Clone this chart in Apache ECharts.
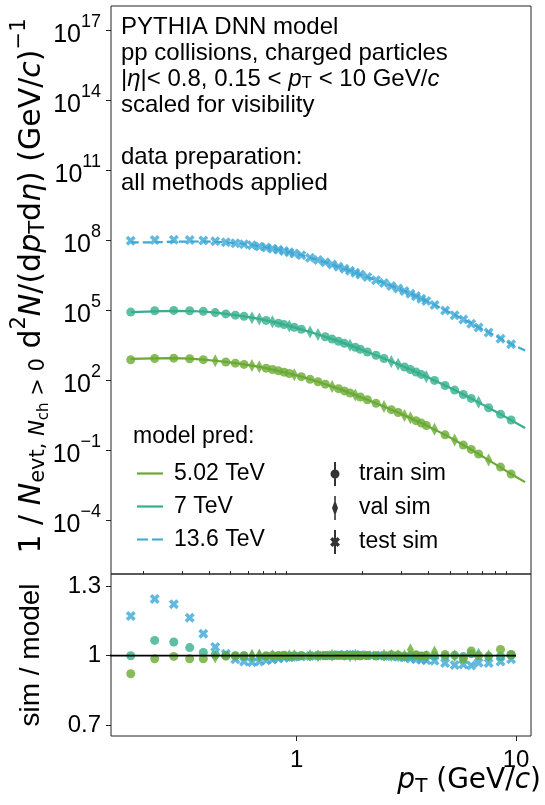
<!DOCTYPE html>
<html><head><meta charset="utf-8">
<script src="https://cdn.jsdelivr.net/npm/echarts@6/dist/echarts.min.js"></script>
<style>html,body{margin:0;padding:0;background:#fff}#c{width:545px;height:805px}</style>
</head><body><div id="c"></div>
<script>
// ---------------- data ----------------
const pT = [0.175,0.225,0.275,0.325,0.375,0.425,0.475,0.525,0.575,0.625,0.675,0.725,0.775,0.825,0.875,0.925,0.975,
  1.05,1.15,1.25,1.35,1.45,1.55,1.65,1.75,1.85,1.95,
  2.1,2.3,2.5,2.7,2.9,3.1,3.3,3.5,3.7,3.9,
  4.25,4.75,5.25,5.75,6.25,6.75,7.5,8.5,9.5];
const pTModelEnd = 11;
// model predictions (scaled for visibility), last entry at pTModelEnd
const model502 = [804,854,872,829,758,675,598,530,471,418,368,324,284,248,218,192,169,
  140,108,84.5,66.7,53.2,42.8,34.4,28.0,23.0,18.9,
  14.3,10.1,7.31,5.38,4.05,3.07,2.35,1.82,1.44,1.13,
  0.764,0.448,0.269,0.166,0.105,0.0681,0.0372,0.0182,0.00946,
  0.00425];
const model7 = [82000,87500,91600,90100,86700,77900,68600,60400,53700,47200,41600,36200,31600,27500,23900,20800,18200,
  14900,11500,8990,7180,5710,4600,3740,3070,2520,2090,
  1600,1160,843,627,475,364,282,222,175,141,
  97.0,58.7,37.2,24.2,16.3,11.1,6.56,3.46,1.93,
  0.877];
const model136 = [7.97e7,8.04e7,8.51e7,8.68e7,8.70e7,8.48e7,7.99e7,7.40e7,6.78e7,6.10e7,5.46e7,4.88e7,4.35e7,3.89e7,3.44e7,3.05e7,2.70e7,
  2.26e7,1.76e7,1.39e7,1.11e7,8.89e6,7.22e6,5.87e6,4.81e6,4.00e6,3.35e6,
  2.58e6,1.91e6,1.44e6,1.09e6,8.38e5,6.57e5,5.11e5,3.96e5,3.11e5,2.48e5,
  1.68e5,1.00e5,6.29e4,4.07e4,2.72e4,1.85e4,1.13e4,6090,3510,
  1840];
// sim / model ratios per pT bin
const ratio502 = [0.922,0.987,0.997,0.987,0.987,0.994,0.998,1.000,0.999,1.001,1.002,0.999,1.001,1.000,1.002,0.999,1.001,
  1.000,0.999,1.001,1.000,1.002,1.001,0.999,1.001,1.002,1.000,
  1.001,0.999,1.002,1.004,1.003,1.000,1.026,1.004,0.998,1.002,
  1.016,1.005,1.000,0.987,1.020,1.000,1.000,1.027,1.004];
const ratio7 = [1.000,1.066,1.059,1.035,1.014,1.004,1.001,0.999,1.000,1.000,1.001,0.999,1.000,1.000,1.001,1.000,1.000,
  1.000,1.001,1.000,1.001,1.000,1.002,1.001,1.000,1.001,1.000,
  1.001,1.000,0.999,1.001,1.000,0.998,1.000,1.001,0.999,0.997,
  1.000,0.998,1.002,0.996,1.008,1.006,0.998,0.997,1.005];
const ratio136 = [1.171,1.244,1.222,1.163,1.095,1.037,1.008,0.985,0.975,0.972,0.975,0.980,0.984,0.988,0.991,0.993,0.995,
  0.997,0.999,1.000,1.001,1.002,1.003,1.004,1.004,1.003,1.003,
  1.002,1.001,1.000,0.998,0.995,0.992,0.988,0.985,0.982,0.980,
  0.978,0.968,0.960,0.962,0.958,0.970,0.968,0.975,0.985];
// bins used for validation (others: training); 13.6 TeV is fully test
const valBins502 = [5,9,10,16,21,25,29,32,33,37,39,43];
const valBins7 = [9,10,12,15,18,19,24,30,31,36,42];
const topYTicks = [1e-4,1e-1,1e2,1e5,1e8,1e11,1e14,1e17];
const ratioYTicks = [0.7,1,1.3];
const xMajorTicks = [1,10];
const xMinorTicks = [0.2,0.3,0.4,0.5,0.6,0.7,0.8,0.9,2,3,4,5,6,7,8,9];
const refLinePts = [0.1,10];

// ---------------- styling ----------------
const FONT = '"Liberation Sans", Arial, Helvetica, sans-serif';
const MFONT = '"DejaVu Sans", sans-serif';
const C502 = '#6aaa33', C7 = '#36af8c', C136 = '#3ca8d4';
const X_MIN = Math.pow(10,-0.847), X_MAX = Math.pow(10,1.0684);
const SYM_DIAMOND = 'path://M3,0L6,6L3,12L0,6Z';
const SYM_X = 'path://M2.5,0L5,2.5L7.5,0L10,2.5L7.5,5L10,7.5L7.5,10L5,7.5L2.5,10L0,7.5L2.5,5L0,2.5Z';
const ICON_TRAIN = 'path://M4,0H6V24H4Z M0.5,12A4.5,4.5 0 1 1 9.5,12A4.5,4.5 0 1 1 0.5,12Z';
const ICON_VAL = 'path://M4.2,0H5.8V24H4.2Z M5,4L8,12L5,20L2,12Z';
const ICON_TEST = 'path://M4,0H6V24H4Z M2.5,7L5,9.5L7.5,7L10,9.5L7.5,12L10,14.5L7.5,17L5,14.5L2.5,17L0,14.5L2.5,12L0,9.5Z';
const ICON_SOLID = 'path://M0,0H26V2.2H0Z';
const ICON_DASH = 'path://M0,0H11V2.2H0Z M15,0H26V2.2H15Z';

function modelLine(m){ return m.map((v,i)=>[i<pT.length?pT[i]:pTModelEnd, v]); }
function simPts(m, r, bins, wantVal){
  const out=[]; pT.forEach((x,i)=>{ const isVal = bins ? bins.indexOf(i)>=0 : false;
    if(bins===null || isVal===wantVal) out.push([x, m[i]*r[i]]); }); return out; }
function ratioPts(r, bins, wantVal){
  const out=[]; pT.forEach((x,i)=>{ const isVal = bins ? bins.indexOf(i)>=0 : false;
    if(bins===null || isVal===wantVal) out.push([x, r[i]]); }); return out; }

function expLabel(v){ const e=Math.round(Math.log10(v)); const s=(e<0?'\u2212':'')+Math.abs(e); return '{b|10}{e|'+s+'}'; }

const chart = echarts.init(document.getElementById('c'), null, {renderer:'canvas'});
const tickLbl = {color:'#000', fontFamily:FONT, fontSize:24};
const option = {
  animation:false,
  backgroundColor:'#fff',
  grid:[
    {left:111, top:6, width:420, height:568, show:true, borderColor:'#222', borderWidth:1, backgroundColor:'transparent'},
    {left:111, top:574, width:420, height:162, show:true, borderColor:'#222', borderWidth:1, backgroundColor:'transparent'}
  ],
  xAxis:[
    {type:'log', gridIndex:0, min:X_MIN, max:X_MAX, axisLine:{show:false}, axisTick:{show:false}, axisLabel:{show:false}, splitLine:{show:false}},
    {type:'log', gridIndex:1, min:X_MIN, max:X_MAX, axisLine:{show:false}, splitLine:{show:false},
      axisTick:{show:true, length:5, customValues:xMajorTicks, lineStyle:{color:'#222', width:1}},
      axisLabel:{show:true, customValues:xMajorTicks, margin:12, formatter:v=>String(Math.round(v)), ...tickLbl}},
    {type:'log', gridIndex:1, min:X_MIN, max:X_MAX, axisLine:{show:false}, splitLine:{show:false},
      axisTick:{show:true, length:3, customValues:xMinorTicks, lineStyle:{color:'#222', width:1}},
      axisLabel:{show:false}}
  ],
  yAxis:[
    {type:'log', gridIndex:0, min:Math.pow(10,-6.31), max:Math.pow(10,18.03), axisLine:{show:false}, splitLine:{show:false},
      axisTick:{show:true, length:5, customValues:topYTicks, lineStyle:{color:'#222', width:1}},
      axisLabel:{show:true, customValues:topYTicks, margin:10, formatter:expLabel,
        rich:{b:{fontSize:25, fontFamily:FONT, color:'#000', lineHeight:32, padding:[10,0,0,0]},
              e:{fontSize:18, fontFamily:FONT, color:'#000', lineHeight:32, padding:[0,0,17,0]}}}},
    {type:'value', gridIndex:1, min:0.654, max:1.352, axisLine:{show:false}, splitLine:{show:false},
      axisTick:{show:true, length:5, customValues:ratioYTicks, lineStyle:{color:'#222', width:1}},
      axisLabel:{show:true, customValues:ratioYTicks, margin:10, formatter:v=>String(v), ...tickLbl}}
  ],
  legend:[
    {left:132, top:457, orient:'vertical', itemWidth:26, itemHeight:20, itemGap:10, selectedMode:false,
      textStyle:{fontFamily:FONT, fontSize:23, color:'#000', padding:[0,0,0,6]},
      data:[{name:'5.02 TeV', icon:ICON_SOLID},{name:'7 TeV', icon:ICON_SOLID},{name:'13.6 TeV', icon:ICON_DASH}]},
    {left:325, top:457, orient:'vertical', itemWidth:10, itemHeight:24, itemGap:10, selectedMode:false,
      textStyle:{fontFamily:FONT, fontSize:23, color:'#000', padding:[0,0,0,14]},
      data:[{name:'train sim', icon:ICON_TRAIN},{name:'val sim', icon:ICON_VAL},{name:'test sim', icon:ICON_TEST}]}
  ],
  graphic:[
    {type:'text', left:121, top:15, z:100, style:{
      text:'{n|PYTHIA DNN model}\n{n|pp collisions, charged particles}\n{n||}{i|\u03b7}{n||< 0.8, 0.15 < }{i|p}{s|T}{n| < 10 GeV/}{i|c}\n{n|scaled for visibility}\n{n| }\n{n|data preparation:}\n{n|all methods applied}',
      rich:{
        n:{fontSize:24, fontFamily:FONT, fill:'#000', lineHeight:26},
        i:{fontSize:24, fontFamily:FONT, fontStyle:'italic', fill:'#000', lineHeight:26},
        s:{fontSize:17, fontFamily:FONT, fill:'#000', lineHeight:26, padding:[9,0,0,0]}
      }}},
    {type:'text', x:133, y:437, z:100, style:{text:'model pred:', fontFamily:FONT, fontSize:23, fill:'#000', align:'left', verticalAlign:'middle'}},
    {type:'text', x:32, y:286, rotation:Math.PI/2, z:100, style:{
      text:'{n|1 / }{i|N}{s|evt, }{si|N}{ss|ch}{s| > 0}{n| d}{p|2}{i|N}{n|/(d}{i|p}{s|T}{n|d}{i|\u03b7}{n|) (GeV/}{i|c}{n|)}{p|\u22121}',
      align:'center', verticalAlign:'middle',
      rich:{
        n:{fontSize:30, fontFamily:MFONT, fill:'#000', lineHeight:46},
        i:{fontSize:30, fontFamily:MFONT, fontStyle:'italic', fill:'#000', lineHeight:46},
        s:{fontSize:21, fontFamily:MFONT, fill:'#000', lineHeight:46, padding:[13,0,0,0]},
        si:{fontSize:21, fontFamily:MFONT, fontStyle:'italic', fill:'#000', lineHeight:46, padding:[13,0,0,0]},
        ss:{fontSize:15, fontFamily:MFONT, fill:'#000', lineHeight:46, padding:[24,0,0,0]},
        p:{fontSize:21, fontFamily:MFONT, fill:'#000', lineHeight:46, padding:[0,0,24,0]}
      }}},
    {type:'text', x:31, y:655, rotation:Math.PI/2, z:100, style:{text:'sim / model', fontFamily:FONT, fontSize:28, fill:'#000', align:'center', verticalAlign:'middle'}},
    {type:'text', x:541, y:781, z:100, style:{
      text:'{i|p}{s|T}{n| (GeV/}{i|c}{n|)}', align:'right', verticalAlign:'middle',
      rich:{
        n:{fontSize:28, fontFamily:MFONT, fill:'#000', lineHeight:36},
        i:{fontSize:28, fontFamily:MFONT, fontStyle:'italic', fill:'#000', lineHeight:36},
        s:{fontSize:20, fontFamily:MFONT, fill:'#000', lineHeight:36, padding:[12,0,0,0]}
      }}}
  ],
  series:[
    // legend dummies
    {name:'train sim', type:'scatter', xAxisIndex:0, yAxisIndex:0, data:[], itemStyle:{color:'#000'}},
    {name:'val sim', type:'scatter', xAxisIndex:0, yAxisIndex:0, data:[], itemStyle:{color:'#000'}},
    {name:'test sim', type:'scatter', xAxisIndex:0, yAxisIndex:0, data:[], itemStyle:{color:'#000'}},
    // top panel: model lines
    {name:'13.6 TeV', type:'line', xAxisIndex:0, yAxisIndex:0, data:modelLine(model136), symbol:'none',
      lineStyle:{color:C136, width:2.2, type:[8,4]}, itemStyle:{color:C136}, z:2},
    {name:'7 TeV', type:'line', xAxisIndex:0, yAxisIndex:0, data:modelLine(model7), symbol:'none',
      lineStyle:{color:C7, width:2.2}, itemStyle:{color:C7}, z:2},
    {name:'5.02 TeV', type:'line', xAxisIndex:0, yAxisIndex:0, data:modelLine(model502), symbol:'none',
      lineStyle:{color:C502, width:2.2}, itemStyle:{color:C502}, z:2},
    // top panel: sim points
    {name:'13.6 test', type:'scatter', xAxisIndex:0, yAxisIndex:0, data:simPts(model136, ratio136, null), symbol:SYM_X, symbolSize:10, itemStyle:{color:C136}, z:3},
    {name:'7 train', type:'scatter', xAxisIndex:0, yAxisIndex:0, data:simPts(model7, ratio7, valBins7, false), symbol:'circle', symbolSize:9, itemStyle:{color:C7}, z:3},
    {name:'7 val', type:'scatter', xAxisIndex:0, yAxisIndex:0, data:simPts(model7, ratio7, valBins7, true), symbol:SYM_DIAMOND, symbolSize:[7,13], itemStyle:{color:C7}, z:3},
    {name:'5.02 train', type:'scatter', xAxisIndex:0, yAxisIndex:0, data:simPts(model502, ratio502, valBins502, false), symbol:'circle', symbolSize:9, itemStyle:{color:C502}, z:3},
    {name:'5.02 val', type:'scatter', xAxisIndex:0, yAxisIndex:0, data:simPts(model502, ratio502, valBins502, true), symbol:SYM_DIAMOND, symbolSize:[7,13], itemStyle:{color:C502}, z:3},
    // ratio panel
    {name:'r13.6 test', type:'scatter', xAxisIndex:1, yAxisIndex:1, data:ratioPts(ratio136, null), symbol:SYM_X, symbolSize:10, itemStyle:{color:C136}, z:3},
    {name:'r7 train', type:'scatter', xAxisIndex:1, yAxisIndex:1, data:ratioPts(ratio7, valBins7, false), symbol:'circle', symbolSize:9, itemStyle:{color:C7}, z:3},
    {name:'r7 val', type:'scatter', xAxisIndex:1, yAxisIndex:1, data:ratioPts(ratio7, valBins7, true), symbol:SYM_DIAMOND, symbolSize:[7,13], itemStyle:{color:C7}, z:3},
    {name:'r5.02 train', type:'scatter', xAxisIndex:1, yAxisIndex:1, data:ratioPts(ratio502, valBins502, false), symbol:'circle', symbolSize:9, itemStyle:{color:C502}, z:3},
    {name:'r5.02 val', type:'scatter', xAxisIndex:1, yAxisIndex:1, data:ratioPts(ratio502, valBins502, true), symbol:SYM_DIAMOND, symbolSize:[7,13], itemStyle:{color:C502}, z:3},
    {name:'unity', type:'line', xAxisIndex:1, yAxisIndex:1, data:refLinePts.map(x=>[x,1]), symbol:'none',
      lineStyle:{color:'#000', width:1.7}, z:5}
  ]
};
chart.setOption(option);
</script>
</body></html>
